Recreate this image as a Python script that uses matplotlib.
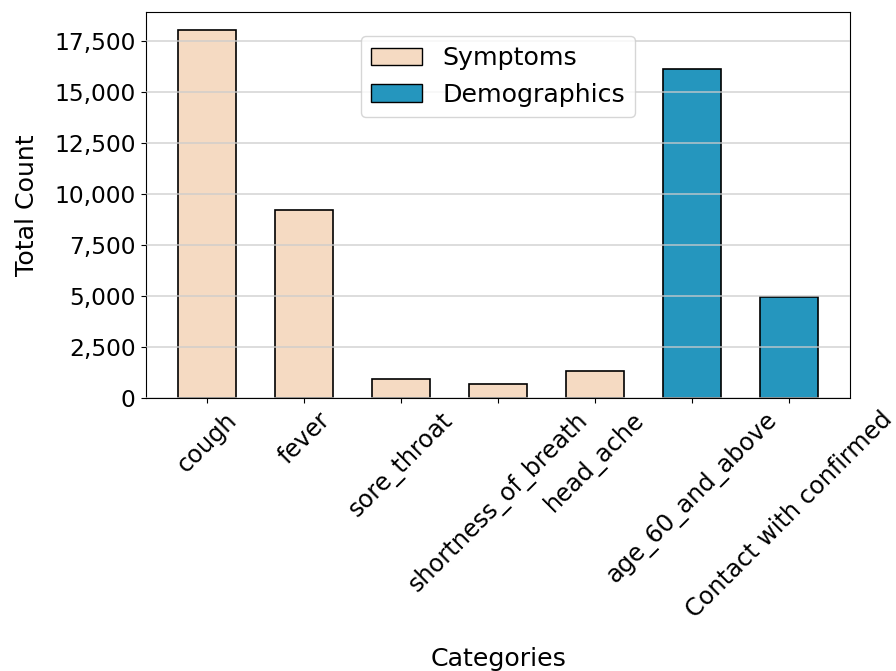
import matplotlib
matplotlib.use("Agg")
import matplotlib.pyplot as plt
from matplotlib.patches import Patch
from matplotlib.ticker import FuncFormatter

categories = ["cough", "fever", "sore_throat", "shortness_of_breath", "head_ache",
              "age_60_and_above", "Contact with confirmed"]
counts = [18000, 9200, 950, 700, 1330, 16100, 4950]
groups = ["Symptoms", "Symptoms", "Symptoms", "Symptoms", "Symptoms",
          "Demographics", "Demographics"]

group_colors = {"Symptoms": "#F5DAC2", "Demographics": "#2596BE"}

fig = plt.figure(figsize=(8.96, 6.71), dpi=100)
ax = fig.add_axes([0.163, 0.407, 0.786, 0.575])

x = range(len(categories))
ax.bar(x, counts, width=0.6, color=[group_colors[g] for g in groups],
       edgecolor="black", linewidth=1.2)

ax.set_xticks(list(x))
ax.set_xticklabels(categories, rotation=45, fontsize=17.3)
ax.tick_params(axis="y", labelsize=16.8, pad=4)
ax.yaxis.set_major_formatter(FuncFormatter(lambda v, p: f"{int(v):,}"))
ax.set_ylabel("Total Count", fontsize=18.2, labelpad=11)
ax.set_xlabel("Categories", fontsize=18.2, labelpad=17)
ax.yaxis.grid(True, color="#cccccc", linewidth=1.2, alpha=0.8)
ax.set_axisbelow(False)

handles = [Patch(facecolor=group_colors[g], edgecolor="black", label=g)
           for g in ["Symptoms", "Demographics"]]
ax.legend(handles=handles, loc="upper center", bbox_to_anchor=(0.5, 0.97),
          fontsize=18.2)

fig.savefig("out.png", dpi=100)
